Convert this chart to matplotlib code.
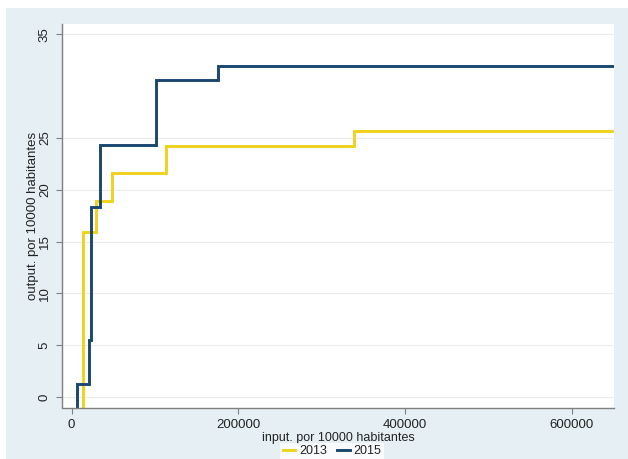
import matplotlib
matplotlib.use("Agg")
import matplotlib.pyplot as plt
from matplotlib.patches import Rectangle

plt.rcParams['font.family'] = ['Liberation Sans', 'DejaVu Sans']

# Data (step functions: value after each step point)
x_2013 = [13900, 28700, 48600, 113000, 339000, 650000]
y_2013 = [15.9, 18.9, 21.6, 24.25, 25.66, 25.66]
x_2015 = [6700, 21000, 22800, 34000, 101500, 175500, 650000]
y_2015 = [1.26, 5.5, 18.3, 24.3, 30.55, 31.95, 31.95]
series_labels = ["2013", "2015"]
y_ticks = [0, 5, 10, 15, 20, 25, 35]
x_ticks = [0, 200000, 400000, 600000]
x_tick_labels = ["0", "200000", "400000", "600000"]

c13 = '#efd31d'
c15 = '#1a476f'
bg = '#e6f0f4'

W, H = 628, 459
fig = plt.figure(figsize=(W / 100, H / 100), dpi=100)
fig.patch.set_facecolor('white')
fig.patches.append(Rectangle((6 / W, 0), 1 - 6 / W, 1 - 8 / H, transform=fig.transFigure,
                             facecolor=bg, edgecolor='none', zorder=-10))

ax = fig.add_axes([62 / W, 1 - 407.5 / H, (614 - 62) / W, (407.5 - 24) / H])
ax.set_facecolor('white')

def step_xy(xs, ys, y0=-2):
    px, py = [xs[0]], [y0]
    for i, (x, y) in enumerate(zip(xs, ys)):
        px.append(x)
        py.append(y)
        if i + 1 < len(xs):
            px.append(xs[i + 1])
            py.append(y)
    return px, py

px, py = step_xy(x_2013, y_2013)
l13, = ax.plot(px, py, color=c13, lw=2.1, solid_joinstyle='miter', label=series_labels[0])
px, py = step_xy(x_2015, y_2015)
l15, = ax.plot(px, py, color=c15, lw=2.1, solid_joinstyle='miter', label=series_labels[1])

ax.set_xlim(-11600, 650700)
ax.set_ylim(-1, 36)
ax.set_yticks(y_ticks)
ax.set_yticklabels([str(t) for t in y_ticks], rotation=90, va='center')
ax.set_xticks(x_ticks)
ax.set_xticklabels(x_tick_labels)
ax.grid(axis='y', color='#ececec', lw=0.8)
ax.set_axisbelow(True)
for s in ['top', 'right']:
    ax.spines[s].set_visible(False)
for s in ['left', 'bottom']:
    ax.spines[s].set_color('#7f7f7f')
    ax.spines[s].set_linewidth(1.0)
ax.tick_params(axis='both', colors='#7f7f7f', labelcolor='#222222', labelsize=9.5, length=4, width=0.8)
ax.tick_params(axis='x', pad=4)
ax.tick_params(axis='y', pad=4)

fig.text((62 + 614) / 2 / W, 1 - 437.5 / H, "input. por 10000 habitantes",
         fontsize=9, color='#222222', ha='center', va='center')
ax.set_ylabel("output. por 10000 habitantes", fontsize=9.5, color='#222222', labelpad=0)

leg = fig.legend(handles=[l13, l15], loc='center', bbox_to_anchor=(332 / W, 1 - 451.5 / H),
                 ncol=2, frameon=True, fontsize=9, handlelength=1.0, handletextpad=0.3,
                 columnspacing=0.8, borderpad=0.2, fancybox=False)
leg.get_frame().set_facecolor('white')
leg.get_frame().set_edgecolor('none')
for t in leg.get_texts():
    t.set_color('#222222')

fig.savefig("out.png", dpi=100)
